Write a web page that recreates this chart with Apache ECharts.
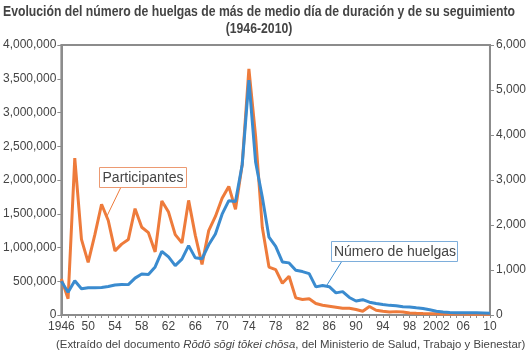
<!DOCTYPE html>
<html>
<head>
<meta charset="utf-8">
<script src="https://cdn.jsdelivr.net/npm/echarts@6/dist/echarts.min.js"></script>
<style>
  html, body { margin: 0; padding: 0; background: #fff; }
  #main { width: 529px; height: 354px; }
</style>
</head>
<body>
<div id="main"></div>
<script>
// años 1946-2010
var years = [];
for (var y = 1946; y <= 2010; y++) years.push(String(y));

var tickLabels = ['1946','50','54','58','62','66','70','74','78','82','86','90','94','98','2002','06','10'];

// participantes (personas)
var participantes = [
  535000, 240000, 2325000, 1120000, 780000, 1190000, 1640000, 1400000, 950000, 1050000,
  1120000, 1575000, 1300000, 1220000, 935000, 1690000, 1525000, 1190000, 1068000, 1698000,
  1180000, 750000, 1250000, 1460000, 1730000, 1905000, 1565000, 2230000, 3645000, 2650000,
  1300000, 710000, 673000, 470000, 574000, 254000, 229000, 240000, 170000, 145000,
  130000, 115000, 100000, 100000, 81000, 55000, 125000, 70000, 55000, 45000,
  50000, 45000, 30000, 25000, 22000, 20000, 18000, 16000, 15000, 14000,
  13000, 12000, 12000, 11000, 10000
];

// número de huelgas
var huelgas = [
  750, 506, 760, 585, 605, 605, 610, 635, 665, 677,
  675, 820, 910, 898, 1069, 1415, 1291, 1098, 1240, 1542,
  1270, 1250, 1560, 1800, 2240, 2540, 2520, 3338, 5220, 3400,
  2620, 1730, 1526, 1180, 1158, 994, 965, 920, 625, 654,
  630, 492, 520, 390, 310, 340, 284, 255, 233, 214,
  204, 182, 178, 160, 144, 115, 84, 65, 58, 52,
  48, 50, 48, 45, 40
];

var orange = '#ee7b3b';
var blue = '#3a8bcf';
var txt = '#444';

var title1 = 'Evolución del número de huelgas de más de medio día de duración y de su seguimiento';
var title2 = '(1946-2010)';
var titleFont = 'bold 15px "Liberation Sans", Arial, sans-serif';

function fmt(v) {
  return v.toLocaleString('en-US');
}

// el título del original es condensado: se estrecha el texto hasta el ancho del original
function textWidth(text, font) {
  var ctx = document.createElement('canvas').getContext('2d');
  ctx.font = font;
  return ctx.measureText(text).width;
}
var titleScale = 512 / textWidth(title1, titleFont);

var chart = echarts.init(document.getElementById('main'));
chart.setOption({
  animation: false,
  backgroundColor: '#fff',
  textStyle: { fontFamily: 'Liberation Sans, Arial, sans-serif' },
  grid: {
    left: 58, right: 36, top: 45, bottom: 39,
    show: true, borderColor: '#8c8c8c', borderWidth: 2, backgroundColor: 'transparent'
  },
  xAxis: {
    type: 'category',
    data: years,
    boundaryGap: false,
    axisLine: { lineStyle: { color: '#8c8c8c', width: 2 } },
    axisTick: { interval: 0, length: 3, lineStyle: { color: '#8c8c8c' } },
    axisLabel: {
      interval: 3, color: txt, fontSize: 12, margin: 6,
      formatter: function (val, idx) { return tickLabels[idx / 4]; }
    }
  },
  yAxis: [{
    type: 'value', min: 0, max: 4000000, interval: 500000,
    splitLine: { show: false },
    axisLine: { show: true, lineStyle: { color: '#8c8c8c', width: 2 } },
    axisTick: { show: true, length: 4, lineStyle: { color: '#8c8c8c' } },
    axisLabel: { color: txt, fontSize: 12, margin: 5, formatter: fmt }
  }, {
    type: 'value', min: 0, max: 6000, interval: 1000,
    splitLine: { show: false },
    axisLine: { show: true, lineStyle: { color: '#8c8c8c', width: 2 } },
    axisTick: { show: true, length: 4, lineStyle: { color: '#8c8c8c' } },
    axisLabel: { color: txt, fontSize: 12, margin: 6, formatter: fmt }
  }],
  series: [{
    name: 'Participantes', type: 'line', yAxisIndex: 0,
    data: participantes, symbol: 'none',
    lineStyle: { color: orange, width: 3 }
  }, {
    name: 'Número de huelgas', type: 'line', yAxisIndex: 1,
    data: huelgas, symbol: 'none',
    lineStyle: { color: blue, width: 3 }
  }],
  graphic: [
    // título
    { type: 'text', x: 259, y: 4, scaleX: titleScale, style: {
      text: title1, fill: txt, font: titleFont, align: 'center' } },
    { type: 'text', x: 259, y: 21, scaleX: titleScale, style: {
      text: title2, fill: txt, font: titleFont, align: 'center' } },
    // fuente
    { type: 'text', x: 56, y: 339, style: {
      text: '(Extraído del documento {i|Rōdō sōgi tōkei chōsa}, del Ministerio de Salud, Trabajo y Bienestar)',
      fill: txt, font: '11.4px "Liberation Sans", sans-serif',
      rich: { i: { fontStyle: 'italic', fontSize: 11.4, fontFamily: 'Liberation Sans', fill: txt } } } },
    // etiqueta participantes
    { type: 'line', shape: { x1: 121, y1: 187, x2: 107, y2: 216 }, style: { stroke: orange, lineWidth: 1 } },
    { type: 'rect', shape: { x: 99.5, y: 167.5, width: 87, height: 20 },
      style: { fill: '#fff', stroke: '#ec9a72', lineWidth: 1 } },
    { type: 'text', x: 143, y: 178, style: { text: 'Participantes', fill: txt,
      font: '14px "Liberation Sans", sans-serif', align: 'center', verticalAlign: 'middle' } },
    // etiqueta huelgas
    { type: 'line', shape: { x1: 342, y1: 261, x2: 327, y2: 285 }, style: { stroke: blue, lineWidth: 1 } },
    { type: 'rect', shape: { x: 331.5, y: 241.5, width: 126, height: 20 },
      style: { fill: '#fff', stroke: '#7eaedb', lineWidth: 1 } },
    { type: 'text', x: 395, y: 252, style: { text: 'Número de huelgas', fill: txt,
      font: '14px "Liberation Sans", sans-serif', align: 'center', verticalAlign: 'middle' } }
  ]
});
</script>
</body>
</html>
